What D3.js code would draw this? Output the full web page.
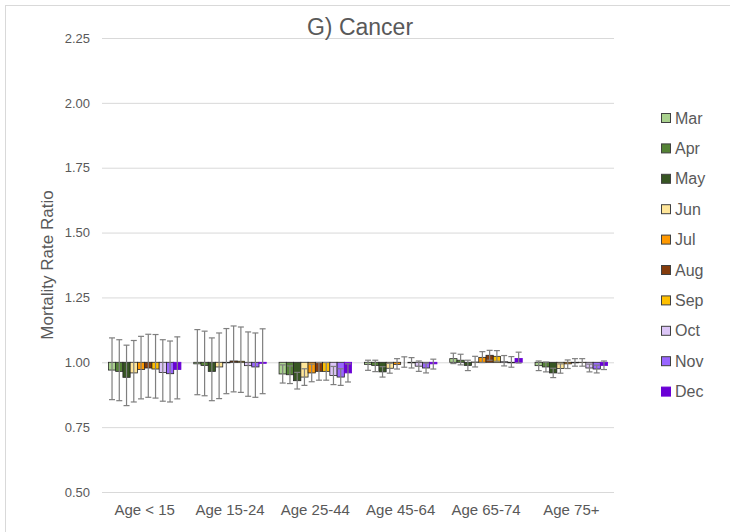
<!DOCTYPE html>
<html>
<head>
<meta charset="utf-8">
<script src="https://cdn.jsdelivr.net/npm/d3@7"></script>
<style>
  html, body { margin: 0; padding: 0; background: #fff; }
  svg { display: block; font-family: "Liberation Sans", Arial, sans-serif; }
</style>
</head>
<body>
<svg id="chart" width="730" height="532"></svg>
<script>
// Age groups along the x axis
const ageGroups = ["Age < 15", "Age 15-24", "Age 25-44", "Age 45-64", "Age 65-74", "Age 75+"];
const months = ["Mar", "Apr", "May", "Jun", "Jul", "Aug", "Sep", "Oct", "Nov", "Dec"];
const monthColors = ["#a9d18e", "#548235", "#375623", "#ffe699", "#ff9900", "#843c0c", "#ffc000", "#dcc6f7", "#9966ff", "#6a00d6"];

// Mortality rate ratio per month (rows) and age group (columns)
const ratioMar = [0.970, 0.994, 0.955, 0.992, 1.014, 0.987];
const ratioApr = [0.965, 0.988, 0.952, 0.988, 1.008, 0.982];
const ratioMay = [0.942, 0.965, 0.929, 0.963, 0.988, 0.959];
const ratioJun = [0.959, 0.982, 0.943, 0.977, 1.001, 0.976];
const ratioJul = [0.972, 0.998, 0.959, 0.992, 1.019, 0.994];
const ratioAug = [0.978, 1.005, 0.965, 1.000, 1.027, 0.998];
const ratioSep = [0.974, 1.004, 0.965, 0.998, 1.023, 0.999];
const ratioOct = [0.961, 0.987, 0.949, 0.985, 1.002, 0.978];
const ratioNov = [0.956, 0.982, 0.943, 0.978, 0.998, 0.974];
const ratioDec = [0.972, 0.996, 0.959, 0.994, 1.015, 0.988];

// Lower bound of the 95% interval, same layout
const lowMar = [0.856, 0.875, 0.920, 0.969, 0.995, 0.968];
const lowApr = [0.852, 0.871, 0.918, 0.964, 0.990, 0.963];
const lowMay = [0.833, 0.852, 0.897, 0.943, 0.968, 0.941];
const lowJun = [0.847, 0.860, 0.911, 0.958, 0.982, 0.958];
const lowJul = [0.859, 0.879, 0.925, 0.974, 0.999, 0.976];
const lowAug = [0.865, 0.886, 0.931, 0.981, 1.008, 0.985];
const lowSep = [0.862, 0.884, 0.931, 0.978, 1.004, 0.985];
const lowOct = [0.850, 0.869, 0.914, 0.965, 0.986, 0.963];
const lowNov = [0.847, 0.865, 0.911, 0.959, 0.981, 0.959];
const lowDec = [0.859, 0.879, 0.924, 0.974, 0.997, 0.972];

// Upper bound of the 95% interval, same layout
const highMar = [1.094, 1.126, 0.990, 1.008, 1.035, 1.005];
const highApr = [1.087, 1.120, 0.986, 1.008, 1.031, 1.001];
const highMay = [1.066, 1.094, 0.961, 0.983, 1.008, 0.977];
const highJun = [1.084, 1.113, 0.975, 0.996, 1.023, 0.994];
const highJul = [1.100, 1.130, 0.993, 1.014, 1.041, 1.009];
const highAug = [1.108, 1.140, 0.999, 1.021, 1.046, 1.014];
const highSep = [1.107, 1.136, 0.999, 1.018, 1.045, 1.014];
const highOct = [1.087, 1.117, 0.984, 1.005, 1.026, 0.993];
const highNov = [1.082, 1.113, 0.975, 0.997, 1.022, 0.989];
const highDec = [1.098, 1.129, 0.994, 1.012, 1.039, 1.005];

const yTicks = [0.50, 0.75, 1.00, 1.25, 1.50, 1.75, 2.00, 2.25];

const ratios = [ratioMar, ratioApr, ratioMay, ratioJun, ratioJul, ratioAug, ratioSep, ratioOct, ratioNov, ratioDec];
const lows = [lowMar, lowApr, lowMay, lowJun, lowJul, lowAug, lowSep, lowOct, lowNov, lowDec];
const highs = [highMar, highApr, highMay, highJun, highJul, highAug, highSep, highOct, highNov, highDec];

const svg = d3.select("#chart");
const plot = { left: 102, right: 614, top: 38, bottom: 492 };

// outer chart-area frame
svg.append("rect")
  .attr("x", 5.5).attr("y", 5.5)
  .attr("width", 740).attr("height", 540)
  .attr("fill", "none").attr("stroke", "#d9d9d9").attr("stroke-width", 1);

const y = d3.scaleLinear().domain([0.5, 2.25]).range([plot.bottom, plot.top]);
const x0 = d3.scaleBand().domain(ageGroups).range([plot.left, plot.right])
  .paddingInner(0.15).paddingOuter(0.075);
const x1 = d3.scaleBand().domain(months).range([0, x0.bandwidth()]).padding(0);
const color = d3.scaleOrdinal().domain(months).range(monthColors);

// horizontal gridlines and tick labels
const yAxis = d3.axisLeft(y).tickValues(yTicks).tickFormat(d3.format(".2f"))
  .tickSize(-(plot.right - plot.left)).tickPadding(12);
const gy = svg.append("g").attr("transform", `translate(${plot.left},0)`).call(yAxis);
gy.select(".domain").remove();
gy.selectAll(".tick line").attr("stroke", "#d9d9d9").attr("stroke-width", 1);
gy.selectAll(".tick text").attr("fill", "#595959").attr("font-size", 13)
  .attr("font-family", "'Liberation Sans', Arial, sans-serif");

// category labels
const xAxis = d3.axisBottom(x0).tickSize(0).tickPadding(12);
const gx = svg.append("g").attr("transform", `translate(0,${plot.bottom})`).call(xAxis);
gx.select(".domain").remove();
gx.selectAll(".tick text").attr("fill", "#595959").attr("font-size", 15)
  .attr("font-family", "'Liberation Sans', Arial, sans-serif");

// bars hanging from / rising above the ratio = 1 baseline
const rows = [];
months.forEach((m, mi) => {
  ageGroups.forEach((g, gi) => {
    rows.push({ month: m, group: g, value: ratios[mi][gi], low: lows[mi][gi], high: highs[mi][gi] });
  });
});

const base = y(1);
svg.append("g").selectAll("rect").data(rows).join("rect")
  .attr("x", d => x0(d.group) + x1(d.month))
  .attr("width", x1.bandwidth())
  .attr("y", d => Math.min(y(d.value), base))
  .attr("height", d => Math.abs(y(d.value) - base))
  .attr("fill", d => color(d.month))
  .attr("stroke", d => d.month === "Dec" ? color(d.month) : "#262626")
  .attr("stroke-width", 0.8);

// confidence-interval whiskers
const eb = svg.append("g").attr("stroke", "#7f7f7f").attr("stroke-width", 1.2);
const cap = 3;
rows.forEach(d => {
  const cx = x0(d.group) + x1(d.month) + x1.bandwidth() / 2;
  eb.append("line").attr("x1", cx).attr("x2", cx).attr("y1", y(d.high)).attr("y2", y(d.low));
  eb.append("line").attr("x1", cx - cap).attr("x2", cx + cap).attr("y1", y(d.high)).attr("y2", y(d.high));
  eb.append("line").attr("x1", cx - cap).attr("x2", cx + cap).attr("y1", y(d.low)).attr("y2", y(d.low));
});

// title
svg.append("text").attr("x", 360).attr("y", 35).attr("text-anchor", "middle")
  .attr("fill", "#595959").attr("font-size", 23).text("G) Cancer");

// y axis title
svg.append("text")
  .attr("transform", `translate(53,${(plot.top + plot.bottom) / 2}) rotate(-90)`)
  .attr("text-anchor", "middle").attr("fill", "#595959").attr("font-size", 17)
  .text("Mortality Rate Ratio");

// legend
const legend = svg.append("g").attr("transform", "translate(661,118)");
const li = legend.selectAll("g").data(months).join("g")
  .attr("transform", (d, i) => `translate(0,${i * 30.4})`);
li.append("rect").attr("x", 0.5).attr("y", -4.5).attr("width", 9).attr("height", 9)
  .attr("fill", d => color(d))
  .attr("stroke", d => d === "Dec" ? color(d) : "#404040").attr("stroke-width", 1);
li.append("text").attr("x", 14).attr("y", 0).attr("dy", "0.35em")
  .attr("fill", "#595959").attr("font-size", 16).text(d => d);
</script>
</body>
</html>
